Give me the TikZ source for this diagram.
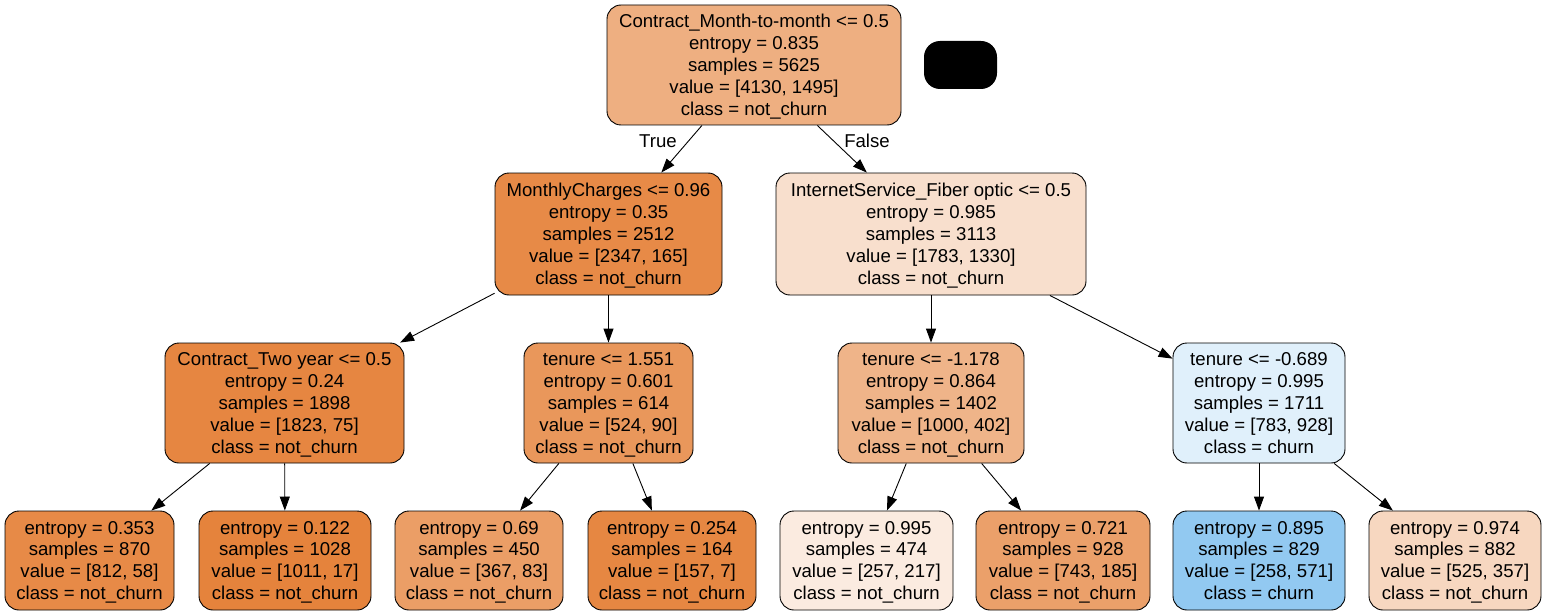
\documentclass[tikz,border=0pt]{standalone}
\usepackage{fontspec}
\setmainfont{Liberation Sans}
\usetikzlibrary{arrows.meta}
\definecolor{cA}{RGB}{238,175,129}
\definecolor{cB}{RGB}{231,138,71}
\definecolor{cC}{RGB}{248,223,205}
\definecolor{cD}{RGB}{230,134,65}
\definecolor{cE}{RGB}{233,151,91}
\definecolor{cF}{RGB}{239,180,137}
\definecolor{cG}{RGB}{224,240,251}
\definecolor{cL1}{RGB}{231,138,71}
\definecolor{cL2}{RGB}{229,131,60}
\definecolor{cL3}{RGB}{235,158,102}
\definecolor{cL4}{RGB}{230,135,66}
\definecolor{cL5}{RGB}{251,235,224}
\definecolor{cL6}{RGB}{235,160,106}
\definecolor{cL7}{RGB}{146,201,241}
\definecolor{cL8}{RGB}{247,215,192}
\begin{document}
\begin{tikzpicture}[x=1pt,y=-1pt,
  box/.style={draw=black, line width=0.9pt, rounded corners=14pt, align=center, inner sep=0pt,
    text depth=0pt, font=\fontsize{18.6}{22}\selectfont},
  inner/.style={box, minimum height=120pt},
  leaf/.style={box, minimum height=99pt},
  edge/.style={draw=black, line width=0.9pt, -{Triangle[length=14pt,width=10pt]}},
  lbl/.style={font=\fontsize{18.6}{22}\selectfont, inner sep=0pt}]
\fill[white] (0,0) rectangle (1547,615);
\useasboundingbox (0,0) rectangle (1547,615);

\node[inner, fill=cA, minimum width=294pt] (n0) at (754,65)
  {Contract\_Month-to-month <= 0.5\\entropy = 0.835\\samples = 5625\\value = [4130, 1495]\\class = not\_churn};
\node[fill=black, rounded corners=16pt, minimum width=73pt, minimum height=48pt, inner sep=0pt] (blk) at (960.5,65) {};

\node[inner, fill=cB, minimum width=227pt, minimum height=122pt] (n1) at (608.5,234)
  {MonthlyCharges <= 0.96\\entropy = 0.35\\samples = 2512\\value = [2347, 165]\\class = not\_churn};
\node[inner, fill=cC, minimum width=310pt, minimum height=122pt] (n2) at (931,234)
  {InternetService\_Fiber optic <= 0.5\\entropy = 0.985\\samples = 3113\\value = [1783, 1330]\\class = not\_churn};

\node[inner, fill=cD, minimum width=239pt] (n3) at (284.5,403)
  {Contract\_Two year <= 0.5\\entropy = 0.24\\samples = 1898\\value = [1823, 75]\\class = not\_churn};
\node[inner, fill=cE, minimum width=169pt] (n4) at (608.5,403)
  {tenure <= 1.551\\entropy = 0.601\\samples = 614\\value = [524, 90]\\class = not\_churn};
\node[inner, fill=cF, minimum width=186pt] (n5) at (931,403)
  {tenure <= -1.178\\entropy = 0.864\\samples = 1402\\value = [1000, 402]\\class = not\_churn};
\node[inner, fill=cG, minimum width=172pt] (n6) at (1259,403)
  {tenure <= -0.689\\entropy = 0.995\\samples = 1711\\value = [783, 928]\\class = churn};

\node[leaf, fill=cL1, minimum width=169pt] (l1) at (89.5,560.5)
  {entropy = 0.353\\samples = 870\\value = [812, 58]\\class = not\_churn};
\node[leaf, fill=cL2, minimum width=172pt] (l2) at (285,560.5)
  {entropy = 0.122\\samples = 1028\\value = [1011, 17]\\class = not\_churn};
\node[leaf, fill=cL3, minimum width=168pt] (l3) at (479,560.5)
  {entropy = 0.69\\samples = 450\\value = [367, 83]\\class = not\_churn};
\node[leaf, fill=cL4, minimum width=168pt] (l4) at (672,560.5)
  {entropy = 0.254\\samples = 164\\value = [157, 7]\\class = not\_churn};
\node[leaf, fill=cL5, minimum width=173pt] (l5) at (866.5,560.5)
  {entropy = 0.995\\samples = 474\\value = [257, 217]\\class = not\_churn};
\node[leaf, fill=cL6, minimum width=174pt] (l6) at (1063,560.5)
  {entropy = 0.721\\samples = 928\\value = [743, 185]\\class = not\_churn};
\node[leaf, fill=cL7, minimum width=172pt] (l7) at (1259,560.5)
  {entropy = 0.895\\samples = 829\\value = [258, 571]\\class = churn};
\node[leaf, fill=cL8, minimum width=172pt] (l8) at (1455,560.5)
  {entropy = 0.974\\samples = 882\\value = [525, 357]\\class = not\_churn};

\draw[edge] (n0) -- (n1);
\draw[edge] (n0) -- (n2);
\draw[edge] (n1) -- (n3);
\draw[edge] (n1) -- (n4);
\draw[edge] (n2) -- (n5);
\draw[edge] (n2) -- (n6);
\draw[edge] (n3) -- (l1);
\draw[edge] (n3) -- (l2);
\draw[edge] (n4) -- (l3);
\draw[edge] (n4) -- (l4);
\draw[edge] (n5) -- (l5);
\draw[edge] (n5) -- (l6);
\draw[edge] (n6) -- (l7);
\draw[edge] (n6) -- (l8);

\node[lbl] (tl) at (658,141) {True};
\node[lbl] (fl) at (867,141) {False};
\end{tikzpicture}
\end{document}
